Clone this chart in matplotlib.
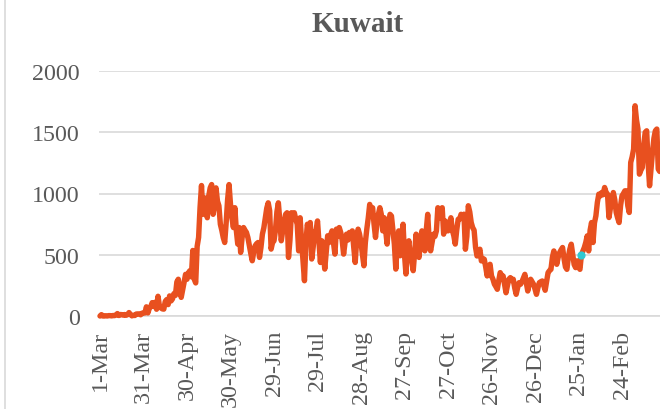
import numpy as np
import matplotlib
matplotlib.use("Agg")
import matplotlib.pyplot as plt
from matplotlib.lines import Line2D

# Daily new cases, Kuwait, starting 1-Mar-2020
mar_2020 = [0, 11, 0, 0, 2, 0, 3, 3, 1, 4, 3, 8, 20, 4, 12, 11, 7, 12, 6, 11,
            28, 12, 1, 6, 4, 16, 17, 17, 10, 23, 24]
apr_2020 = [25, 75, 25, 62, 77, 109, 78, 112, 55, 161, 80, 66, 58, 56, 119, 134,
            93, 164, 123, 140, 183, 168, 278, 300, 215, 152, 213, 275, 340, 300]
may_2020 = [353, 370, 320, 535, 300, 270, 568, 641, 885, 1065, 830, 965, 900, 802,
            980, 1046, 1073, 830, 900, 1046, 938, 900, 749, 700, 640, 600, 760,
            950, 1073, 911, 800]
jun_2020 = [722, 884, 700, 587, 722, 519, 640, 722, 700, 682, 640, 573, 510, 451,
            520, 573, 590, 600, 478, 560, 668, 720, 802, 880, 924, 860, 546, 600,
            614, 700]
jul_2020 = [850, 924, 780, 614, 695, 760, 830, 843, 478, 620, 843, 800, 843, 790,
            749, 532, 802, 614, 450, 288, 600, 749, 700, 763, 465, 560, 682, 700,
            776, 600, 437]
aug_2020 = [614, 520, 383, 520, 655, 600, 660, 695, 600, 505, 709, 650, 722, 682,
            620, 505, 600, 668, 620, 682, 650, 695, 560, 437, 620, 709, 668, 600,
            500, 410, 600]
sep_2020 = [709, 800, 911, 850, 884, 750, 641, 760, 830, 884, 830, 695, 802, 700,
            587, 750, 830, 816, 700, 587, 383, 600, 695, 492, 620, 749, 500, 343,
            550, 614]
oct_2020 = [492, 450, 370, 520, 668, 560, 478, 620, 695, 600, 532, 700, 830, 620,
            532, 600, 668, 650, 695, 884, 800, 850, 884, 668, 776, 720, 695, 760,
            802, 700, 655]
nov_2020 = [587, 700, 789, 790, 830, 800, 831, 545, 650, 900, 850, 763, 722, 700,
            560, 490, 520, 545, 450, 470, 463, 400, 327, 380, 422, 327, 300, 260,
            240, 218]
dec_2020 = [290, 354, 330, 327, 260, 190, 250, 300, 313, 290, 300, 230, 177, 230,
            272, 259, 280, 310, 340, 270, 204, 260, 300, 280, 259, 220, 177, 230,
            272, 280, 286]
jan_2021 = [250, 210, 280, 354, 370, 381, 480, 531, 470, 422, 480, 518, 540, 559,
            470, 400, 381, 480, 545, 586, 500, 420, 395, 450, 400, 381, 500, 530,
            559, 600, 654]
feb_2021 = [531, 700, 763, 600, 760, 818, 927, 995, 980, 1008, 990, 1049, 1010,
            995, 804, 880, 927, 1008, 950, 845, 800, 763, 900, 981, 1000, 1022,
            1022, 900]
mar_2021 = [845, 1253, 1300, 1362, 1716, 1600, 1526, 1158, 1190, 1212, 1400, 1499,
            1512, 1250, 1063, 1200, 1335, 1450, 1512, 1526, 1199, 1180]

cases = (mar_2020 + apr_2020 + may_2020 + jun_2020 + jul_2020 + aug_2020 +
         sep_2020 + oct_2020 + nov_2020 + dec_2020 + jan_2021 + feb_2021 + mar_2021)
days = np.arange(len(cases))

tick_days = [0, 30, 60, 90, 120, 150, 180, 210, 240, 270, 300, 330, 360]
tick_labels = ["1-Mar", "31-Mar", "30-Apr", "30-May", "29-Jun", "29-Jul", "28-Aug",
               "27-Sep", "27-Oct", "26-Nov", "26-Dec", "25-Jan", "24-Feb"]
y_ticks = [0, 500, 1000, 1500, 2000]

marker_day = [332]
marker_value = [500]

W, H = 660, 410
fig = plt.figure(figsize=(W / 100, H / 100), dpi=100)
fig.patch.set_facecolor("white")

ax = fig.add_axes([99 / W, 93 / H, 561 / W, 245 / H])
ax.plot(days, cases, color="#E8501F", lw=3.9, solid_joinstyle="round",
        solid_capstyle="round", clip_on=False, zorder=3)
ax.scatter(marker_day, marker_value, s=24, color="#30C8D2", zorder=4, clip_on=False)

ax.set_xlim(-0.69, 386.2)
ax.set_ylim(0, 2000)
ax.set_yticks(y_ticks)
ax.set_yticklabels([str(v) for v in y_ticks])
ax.set_xticks(tick_days)
ax.set_xticklabels(tick_labels, rotation=90)

grid_c = "#D9D9D9"
ax.grid(axis="y", color=grid_c, lw=1.2)
ax.set_axisbelow(True)
for s in ["top", "right", "left"]:
    ax.spines[s].set_visible(False)
ax.spines["bottom"].set_color(grid_c)
ax.spines["bottom"].set_linewidth(1.2)

ax.tick_params(axis="both", length=0, labelcolor="#595959")
ax.tick_params(axis="y", pad=14)
ax.tick_params(axis="x", pad=10)
for lab in ax.get_xticklabels() + ax.get_yticklabels():
    lab.set_fontfamily("Liberation Serif")
    lab.set_fontsize(17.3)

fig.text(358 / W, 1 - 31.7 / H, "Kuwait", ha="center", va="baseline",
         fontfamily="Liberation Serif", fontweight="bold", fontsize=21,
         color="#595959")

# chart frame edge on the left
fig.add_artist(Line2D([5 / W, 5 / W], [0, 1], transform=fig.transFigure,
                      color=grid_c, lw=1.2))

fig.savefig("out.png", dpi=100)
